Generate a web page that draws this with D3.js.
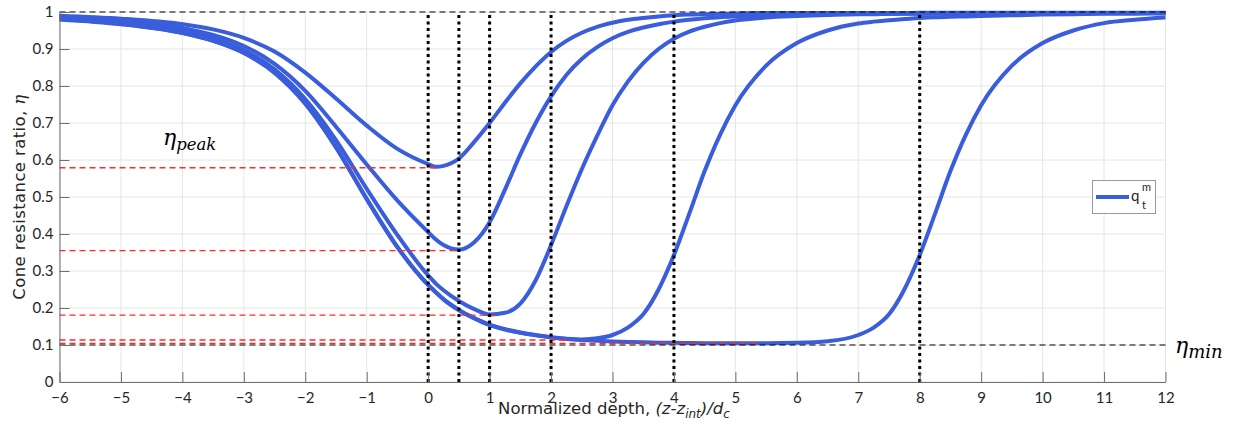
<!DOCTYPE html>
<html><head><meta charset="utf-8">
<script src="https://cdn.jsdelivr.net/npm/d3@7"></script>
<style>body{margin:0;background:#fff} svg{display:block}</style>
</head><body>
<svg id="chart" width="1237" height="435"></svg>
<script>
// ---- data ----
const depth = [-6,-5,-4,-3.5,-3,-2.5,-2,-1.5,-1,-0.5,0,0.125,0.25,0.5,0.75,1,1.25,1.5,1.75,2,2.25,2.5,2.75,3,3.25,3.5,3.75,4,4.25,4.5,4.75,5,5.5,6,6.5,7,7.25,7.5,7.75,8,8.25,8.5,8.75,9,9.5,10,10.5,11,11.5,12];
const etaH05 = [0.990,0.982,0.967,0.953,0.930,0.893,0.836,0.766,0.693,0.630,0.589,0.5815,0.584,0.604,0.649,0.700,0.755,0.807,0.853,0.892,0.922,0.944,0.960,0.971,0.979,0.984,0.988,0.991,0.993,0.994,0.995,0.996,0.997,0.997,0.997,0.997,0.997,0.997,0.997,0.998,0.998,0.998,0.998,0.998,0.998,0.998,0.998,0.998,0.998,0.998];
const etaH1 = [0.987,0.977,0.957,0.938,0.908,0.860,0.787,0.690,0.588,0.490,0.405,0.385,0.370,0.358,0.378,0.432,0.520,0.615,0.700,0.772,0.830,0.873,0.905,0.929,0.946,0.958,0.967,0.974,0.979,0.983,0.986,0.988,0.991,0.993,0.994,0.995,0.995,0.995,0.996,0.996,0.996,0.996,0.996,0.996,0.997,0.997,0.997,0.997,0.997,0.997];
const etaH2 = [0.984,0.972,0.949,0.929,0.897,0.845,0.765,0.654,0.522,0.397,0.288,0.266,0.248,0.219,0.197,0.1825,0.187,0.212,0.275,0.370,0.475,0.575,0.665,0.748,0.812,0.862,0.900,0.928,0.947,0.960,0.970,0.977,0.985,0.989,0.992,0.994,0.994,0.995,0.995,0.995,0.996,0.996,0.996,0.996,0.996,0.997,0.997,0.997,0.997,0.997];
const etaH4 = [0.981,0.968,0.944,0.923,0.890,0.837,0.753,0.635,0.495,0.365,0.263,0.243,0.224,0.195,0.173,0.155,0.143,0.134,0.127,0.121,0.117,0.115,0.118,0.127,0.147,0.183,0.250,0.343,0.455,0.570,0.668,0.748,0.855,0.916,0.950,0.969,0.974,0.978,0.981,0.984,0.986,0.987,0.988,0.989,0.991,0.993,0.994,0.995,0.9955,0.996];
const etaH8 = [0.980,0.967,0.943,0.922,0.889,0.8355,0.752,0.634,0.494,0.364,0.262,0.242,0.223,0.194,0.172,0.154,0.142,0.133,0.126,0.1205,0.1165,0.1135,0.1112,0.1095,0.1082,0.1072,0.1064,0.1058,0.1053,0.1050,0.1048,0.1046,0.1047,0.1058,0.110,0.127,0.147,0.183,0.250,0.343,0.455,0.570,0.668,0.748,0.855,0.916,0.950,0.970,0.979,0.985];
const curves = [etaH05, etaH1, etaH2, etaH4, etaH8];
const boundaries = [0, 0.5, 1, 2, 4, 8];
const etaPeaks = [0.579, 0.355, 0.181, 0.1135, 0.1045];
const peakDepths = [0.14, 0.52, 1.09, 2.3, 5.4];
const etaMin = 0.1, etaMax = 1;
const xTicks = [-6,-5,-4,-3,-2,-1,0,1,2,3,4,5,6,7,8,9,10,11,12];
const yTicks = [0,0.1,0.2,0.3,0.4,0.5,0.6,0.7,0.8,0.9,1];
const yTickLabels = ["0","0.1","0.2","0.3","0.4","0.5","0.6","0.7","0.8","0.9","1"];

// ---- drawing ----
const svg = d3.select("#chart");
const x = d3.scaleLinear().domain([-6, 12]).range([59.5, 1165.5]);
const y = d3.scaleLinear().domain([0, 1]).range([382, 12]);
const blue = "#3a5ddb";
const sans = "Lato, 'DejaVu Sans', sans-serif";
const labelSans = "'DejaVu Sans', Lato, sans-serif";
const serif = "'DejaVu Serif', serif";

// grid
const grid = svg.append("g").attr("stroke", "#e6e6e6").attr("stroke-width", 1);
grid.selectAll("line.gx").data(xTicks).join("line").attr("class","gx")
  .attr("x1", d => x(d)).attr("x2", d => x(d)).attr("y1", y(0)).attr("y2", y(1));
grid.selectAll("line.gy").data(yTicks).join("line").attr("class","gy")
  .attr("x1", x(-6)).attr("x2", x(12)).attr("y1", d => y(d)).attr("y2", d => y(d));

// curves
const line = d3.line().x((d, i) => x(depth[i])).y(d => y(d)).curve(d3.curveMonotoneX);
svg.append("g").selectAll("path").data(curves).join("path")
  .attr("d", d => line(d)).attr("fill", "none").attr("stroke", blue).attr("stroke-width", 4);

// red peak lines
svg.append("g").selectAll("line").data(etaPeaks).join("line")
  .attr("x1", x(-6)).attr("x2", (d, i) => x(peakDepths[i]))
  .attr("y1", d => y(d)).attr("y2", d => y(d))
  .attr("stroke", "#ff2a2a").attr("stroke-width", 1.3).attr("stroke-dasharray", "6,4");

// black dashed limits
svg.append("g").selectAll("line").data([etaMin, etaMax]).join("line")
  .attr("x1", x(-6)).attr("x2", x(12)).attr("y1", d => y(d)).attr("y2", d => y(d))
  .attr("stroke", "#000").attr("stroke-width", 1.2).attr("stroke-dasharray", "6,4");

// dotted boundaries
svg.append("g").selectAll("line").data(boundaries).join("line")
  .attr("x1", d => x(d)).attr("x2", d => x(d)).attr("y1", y(0)).attr("y2", y(1))
  .attr("stroke", "#000").attr("stroke-width", 3).attr("stroke-dasharray", "3,3.5");

// axes
const xAxis = d3.axisBottom(x).tickValues(xTicks).tickSizeInner(-10).tickSizeOuter(0).tickPadding(10);
const gx = svg.append("g").attr("transform", `translate(0,${y(0)})`).call(xAxis);
const yAxis = d3.axisLeft(y).tickValues(yTicks).tickFormat((d, i) => yTickLabels[i]).tickSizeInner(-10).tickSizeOuter(0).tickPadding(6);
const gy = svg.append("g").attr("transform", `translate(${x(-6)},0)`).call(yAxis);
[gx, gy].forEach(g => {
  g.select(".domain").attr("stroke", "#6e6e6e");
  g.selectAll(".tick line").attr("stroke", "#6e6e6e");
  g.selectAll(".tick text").attr("fill", "#262626").style("font-family", sans).style("font-size", "15px");
});
gy.selectAll(".tick text").attr("x", -6);

// axis titles
const yl = svg.append("text").attr("transform", "translate(25,197) rotate(-90)")
  .attr("text-anchor", "middle").attr("fill", "#262626").style("font-family", labelSans).style("font-size", "16.5px")
  .style("letter-spacing", "0.4px");
yl.append("tspan").text("Cone resistance ratio, ");
yl.append("tspan").style("font-family", serif).style("font-style", "italic").text("η");

const xl = svg.append("text").attr("x", 614).attr("y", 414).attr("text-anchor", "middle")
  .attr("fill", "#262626").style("font-family", labelSans).style("font-size", "16.5px");
xl.append("tspan").text("Normalized depth, ");
xl.append("tspan").style("font-style", "italic").text("(z-z");
xl.append("tspan").style("font-style", "italic").style("font-size", "12px").attr("dy", 4).text("int");
xl.append("tspan").style("font-style", "italic").attr("dy", -4).text(")/d");
xl.append("tspan").style("font-style", "italic").style("font-size", "12px").attr("dy", 4).text("c");

// eta annotations
const ep = svg.append("text").attr("x", 163).attr("y", 145).attr("fill", "#000").style("font-family", serif).style("font-style", "italic").style("font-size", "22px");
ep.append("tspan").text("η");
ep.append("tspan").attr("dy", 5).style("font-size", "16.5px").text("peak");
const em = svg.append("text").attr("x", 1175).attr("y", 353).attr("fill", "#000").style("font-family", serif).style("font-style", "italic").style("font-size", "22px");
em.append("tspan").text("η");
em.append("tspan").attr("dy", 5).style("font-size", "18px").text("min");

// legend
const lg = svg.append("g");
lg.append("rect").attr("x", 1092.5).attr("y", 180.5).attr("width", 63).attr("height", 33)
  .attr("fill", "#fff").attr("stroke", "#9a9a9a").attr("stroke-width", 1);
lg.append("line").attr("x1", 1096).attr("x2", 1129).attr("y1", 197).attr("y2", 197)
  .attr("stroke", blue).attr("stroke-width", 4);
lg.append("text").attr("x", 1131).attr("y", 201).attr("fill", "#262626").style("font-family", sans).style("font-size", "15px").text("q");
lg.append("text").attr("x", 1142).attr("y", 191).attr("fill", "#262626").style("font-family", sans).style("font-size", "11px").text("m");
lg.append("text").attr("x", 1142).attr("y", 209).attr("fill", "#262626").style("font-family", sans).style("font-size", "11px").text("t");
</script>
</body></html>
